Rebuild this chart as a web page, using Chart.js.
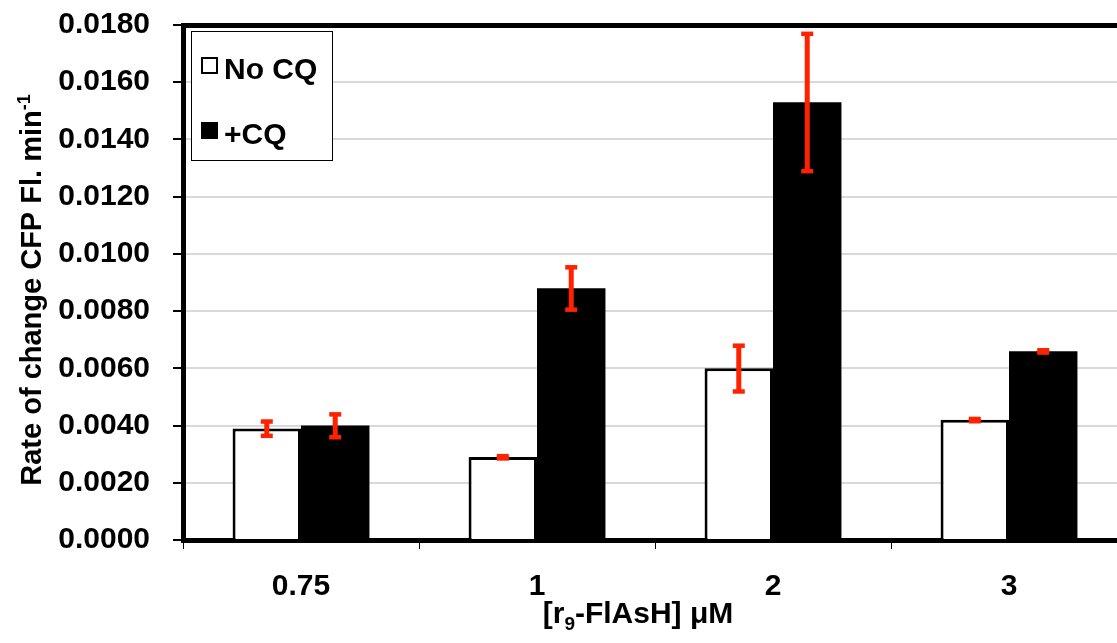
<!DOCTYPE html>
<html>
<head>
<meta charset="utf-8">
<script src="https://cdn.jsdelivr.net/npm/chart.js@4"></script>
<style>
  html, body { margin: 0; padding: 0; background: #fff; overflow: hidden; }
  #wrap { width: 1130px; height: 643px; }
</style>
</head>
<body>
<div id="wrap"><canvas id="rateChart" width="1130" height="643"></canvas></div>
<script>
// values
const categories = ['0.75', '1', '2', '3'];
const noCQ = [0.0039, 0.0029, 0.0060, 0.0042];
const noCQErr = [0.00025, 0.00004, 0.0008, 0.00004];
const plusCQ = [0.0040, 0.0088, 0.0153, 0.0066];
const plusCQErr = [0.0004, 0.00074, 0.0024, 0.00004];
const yTicks = [0, 0.002, 0.004, 0.006, 0.008, 0.010, 0.012, 0.014, 0.016, 0.018];

const FONT = 'Liberation Sans, Arial, sans-serif';
const RED = '#ff2200';

const errorBars = {
  id: 'errorBars',
  afterDatasetsDraw(chart) {
    const ctx = chart.ctx;
    const y = chart.scales.y;
    chart.data.datasets.forEach((ds, i) => {
      const meta = chart.getDatasetMeta(i);
      meta.data.forEach((bar, j) => {
        const v = ds.data[j], e = ds.errors[j];
        const top = y.getPixelForValue(v + e);
        const bot = y.getPixelForValue(v - e);
        ctx.save();
        ctx.fillStyle = RED;
        ctx.fillRect(bar.x - 2.5, top, 5, bot - top);
        ctx.fillRect(bar.x - 6, top - 2, 12, 4.5);
        ctx.fillRect(bar.x - 6, bot - 2, 12, 4.5);
        ctx.restore();
      });
    });
  }
};

const decorations = {
  id: 'decorations',
  afterDraw(chart) {
    const ctx = chart.ctx;
    const a = chart.chartArea;
    ctx.save();
    // top frame line
    ctx.fillStyle = '#000';
    ctx.fillRect(a.left - 2, a.top - 2, a.right - a.left + 4, 5);

    // legend
    const lx = 191, ly = 31, lw = 141, lh = 129;
    ctx.fillStyle = '#fff';
    ctx.fillRect(lx, ly, lw, lh);
    ctx.strokeStyle = '#000';
    ctx.lineWidth = 1;
    ctx.strokeRect(lx + 0.5, ly + 0.5, lw, lh);
    ctx.font = 'bold 30px ' + FONT;
    ctx.textBaseline = 'alphabetic';
    chart.data.datasets.forEach((ds, i) => {
      const base = 79 + i * 65;
      ctx.fillStyle = ds.backgroundColor;
      ctx.fillRect(202, base - 21, 15, 15);
      ctx.strokeStyle = '#000';
      ctx.lineWidth = 2;
      ctx.strokeRect(202, base - 21, 15, 15);
      ctx.fillStyle = '#000';
      ctx.fillText(ds.label, 224, base);
    });

    // x axis title with subscript
    ctx.fillStyle = '#000';
    const big = 'bold 30px ' + FONT, small = 'bold 19px ' + FONT;
    const parts = [['[r', big, 0], ['9', small, 7], ['-FlAsH] \u03bcM', big, 0]];
    let total = 0;
    parts.forEach(p => { ctx.font = p[1]; total += ctx.measureText(p[0]).width; });
    let x = 638 - total / 2;
    parts.forEach(p => { ctx.font = p[1]; ctx.fillText(p[0], x, 623 + p[2]); x += ctx.measureText(p[0]).width; });

    // y axis title with superscript
    ctx.translate(41, 290);
    ctx.rotate(-Math.PI / 2);
    const yparts = [['Rate of change CFP Fl. min', 'bold 29px ' + FONT, 0], ['-1', 'bold 18px ' + FONT, -11]];
    total = 0;
    yparts.forEach(p => { ctx.font = p[1]; total += ctx.measureText(p[0]).width; });
    x = -total / 2;
    yparts.forEach(p => { ctx.font = p[1]; ctx.fillText(p[0], x, p[2]); x += ctx.measureText(p[0]).width; });
    ctx.restore();
  }
};

new Chart(document.getElementById('rateChart').getContext('2d'), {
  type: 'bar',
  data: {
    labels: categories,
    datasets: [{
      label: 'No CQ',
      data: noCQ,
      errors: noCQErr,
      backgroundColor: '#ffffff',
      borderColor: '#000000',
      borderWidth: 3,
      barPercentage: 1,
      categoryPercentage: 0.58
    }, {
      label: '+CQ',
      data: plusCQ,
      errors: plusCQErr,
      backgroundColor: '#000000',
      borderColor: '#000000',
      borderWidth: 0,
      barPercentage: 1,
      categoryPercentage: 0.58
    }]
  },
  options: {
    responsive: false,
    animation: false,
    layout: { padding: { top: 25, left: 0, right: 3, bottom: 0 } },
    plugins: {
      legend: { display: false },
      tooltip: { enabled: false }
    },
    scales: {
      x: {
        grid: { drawOnChartArea: false, drawTicks: true, tickLength: 9, color: '#000', lineWidth: 1 },
        border: { color: '#000', width: 5 },
        ticks: { color: '#000', font: { family: FONT, size: 30, weight: 'bold' }, padding: 20 },
        afterFit(scale) { scale.height = 103; }
      },
      y: {
        min: 0,
        max: 0.018,
        afterBuildTicks(scale) { scale.ticks = yTicks.map(v => ({ value: v })); },
        grid: { color: '#d9d9d9', lineWidth: 2, tickColor: '#000', tickLength: 10 },
        border: { color: '#000', width: 5 },
        ticks: {
          color: '#000',
          font: { family: FONT, size: 30, weight: 'bold' },
          padding: 23,
          callback: v => v.toFixed(4)
        },
        afterFit(scale) {
          scale.width = 183;
          scale.paddingTop = 0;
          scale.paddingBottom = 0;
        }
      }
    }
  },
  plugins: [errorBars, decorations]
});
</script>
</body>
</html>
